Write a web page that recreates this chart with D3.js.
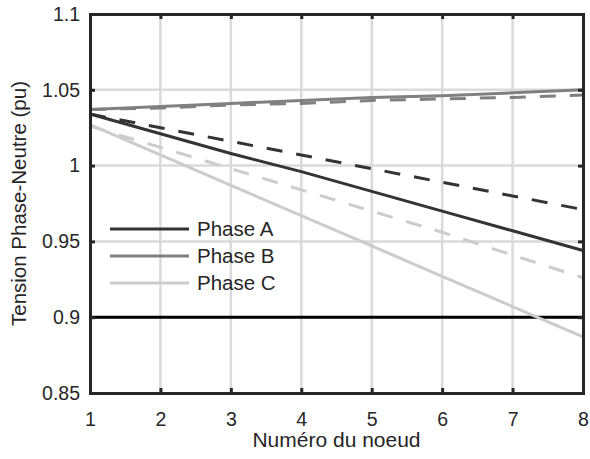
<!DOCTYPE html>
<html>
<head>
<meta charset="utf-8">
<script src="https://cdn.jsdelivr.net/npm/d3@7"></script>
<style>
  body { margin: 0; background: #fff; }
  text { font-family: "Liberation Sans", Arial, sans-serif; fill: #262626; }
</style>
</head>
<body>
<script>
const svgWidth = 590;
const svgHeight = 459;

// node numbers and voltages (pu)
const nodes = [1, 2, 3, 4, 5, 6, 7, 8];
const phaseA = [1.034, 1.021, 1.008, 0.996, 0.983, 0.970, 0.957, 0.944];
const phaseAdash = [1.034, 1.025, 1.016, 1.007, 0.998, 0.989, 0.980, 0.971];
const phaseB = [1.037, 1.039, 1.041, 1.043, 1.045, 1.046, 1.048, 1.050];
const phaseBdash = [1.037, 1.038, 1.040, 1.041, 1.043, 1.044, 1.045, 1.0465];
const phaseC = [1.027, 1.007, 0.987, 0.967, 0.947, 0.927, 0.907, 0.887];
const phaseCdash = [1.026, 1.012, 0.998, 0.984, 0.970, 0.956, 0.941, 0.926];
const limit = 0.9;

const xTicks = [1, 2, 3, 4, 5, 6, 7, 8];
const yTicks = [0.85, 0.9, 0.95, 1, 1.05, 1.1];
const seriesNames = ['Phase A', 'Phase B', 'Phase C'];

const colA = '#333333', colB = '#808080', colC = '#cccccc';

const margin = {top: 14, right: 7, bottom: 66, left: 90};
const width = svgWidth - margin.left - margin.right;
const height = svgHeight - margin.top - margin.bottom;

const svg = d3.select('body')
              .append('svg')
              .attr('width', svgWidth)
              .attr('height', svgHeight);

const g = svg.append('g').attr('transform', `translate(${margin.left},${margin.top})`);

const x = d3.scaleLinear().domain([1, 8]).range([0, width]);
const y = d3.scaleLinear().domain([0.85, 1.1]).range([height, 0]);

// grid
g.append('g').selectAll('line').data(xTicks.slice(1, -1)).enter().append('line')
  .attr('x1', d => x(d)).attr('x2', d => x(d))
  .attr('y1', 0).attr('y2', height)
  .attr('stroke', '#dadada').attr('stroke-width', 2.5);
g.append('g').selectAll('line').data(yTicks.slice(1, -1)).enter().append('line')
  .attr('x1', 0).attr('x2', width)
  .attr('y1', d => y(d)).attr('y2', d => y(d))
  .attr('stroke', '#dadada').attr('stroke-width', 2.5);

// limit line
g.append('line')
  .attr('x1', 0).attr('x2', width)
  .attr('y1', y(limit)).attr('y2', y(limit))
  .attr('stroke', '#000').attr('stroke-width', 3);

const line = d3.line().x((d, i) => x(nodes[i])).y(d => y(d));

const series = [
  {v: phaseAdash, c: colA, dash: true},
  {v: phaseBdash, c: colB, dash: true},
  {v: phaseCdash, c: colC, dash: true},
  {v: phaseA, c: colA, dash: false},
  {v: phaseB, c: colB, dash: false},
  {v: phaseC, c: colC, dash: false}
];

g.append('g').selectAll('path').data(series).enter().append('path')
  .attr('d', d => line(d.v))
  .attr('fill', 'none')
  .attr('stroke', d => d.c)
  .attr('stroke-width', 3)
  .attr('stroke-dasharray', d => d.dash ? '16,14' : null);

// axes (MATLAB-like box with inward ticks)
const xAxis = g.append('g').attr('transform', `translate(0,${height})`)
  .call(d3.axisBottom(x).tickValues(xTicks).tickSize(-5).tickPadding(19).tickFormat(d3.format('d')));
const yAxis = g.append('g')
  .call(d3.axisLeft(y).tickValues(yTicks).tickSize(-5).tickPadding(10).tickFormat(d => d3.format('')(+d.toFixed(2))));
const xTop = g.append('g')
  .call(d3.axisTop(x).tickValues(xTicks).tickSize(-5).tickFormat(''));
const yRight = g.append('g').attr('transform', `translate(${width},0)`)
  .call(d3.axisRight(y).tickValues(yTicks).tickSize(-5).tickFormat(''));

[xAxis, yAxis, xTop, yRight].forEach(a => {
  a.selectAll('.domain').attr('stroke', '#262626').attr('stroke-width', 3);
  a.selectAll('.tick line').attr('stroke', '#262626').attr('stroke-width', 3);
  a.selectAll('.tick text').style('font-size', '19.5px').attr('fill', '#262626')
    .style('font-family', '"Liberation Sans", Arial, sans-serif');
});

// axis labels
svg.append('text')
  .attr('x', margin.left + width / 2)
  .attr('y', 447)
  .attr('text-anchor', 'middle')
  .style('font-size', '21px')
  .text('Numéro du noeud');

svg.append('text')
  .attr('transform', `translate(26,${margin.top + height / 2}) rotate(-90)`)
  .attr('text-anchor', 'middle')
  .style('font-size', '20.5px')
  .text('Tension Phase-Neutre (pu)');

// legend
const legend = g.append('g').attr('transform', 'translate(20,215)');
const legendCols = [colA, colB, colC];
seriesNames.forEach((name, i) => {
  const row = legend.append('g').attr('transform', `translate(0,${i * 27})`);
  row.append('line').attr('x1', 0).attr('x2', 79).attr('y1', 0).attr('y2', 0)
    .attr('stroke', legendCols[i]).attr('stroke-width', 3);
  row.append('text').attr('x', 87).attr('y', 7).style('font-size', '20.5px').text(name);
});
</script>
</body>
</html>
